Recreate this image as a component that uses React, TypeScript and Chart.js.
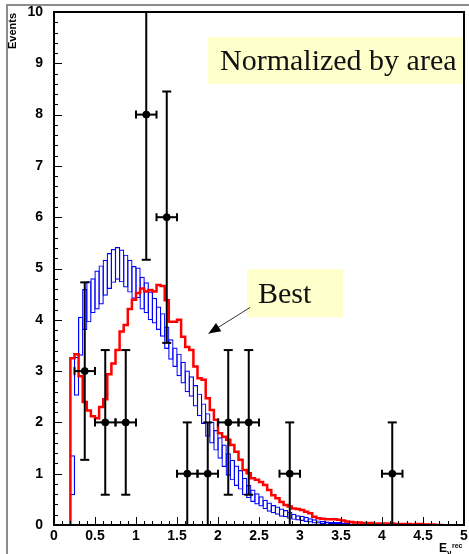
import React, { useEffect, useRef } from 'react';
import { Chart, registerables } from 'chart.js';

Chart.register(...registerables);

// Histogram binning (bin edges start at BIN_START, width BIN_WIDTH)
const BIN_START = 0.2;
const BIN_WIDTH = 0.05;

// Red histogram ("Best") bin contents
const redValues = [
  0.84, 3.25, 3.33, 2.9, 2.4, 2.23, 2.12, 2.08, 2.3, 2.45,
  2.94, 3.15, 3.41, 3.77, 3.9, 4.21, 4.39, 4.52, 4.61, 4.55,
  4.58, 4.55, 4.68, 4.66, 4.38, 3.96, 3.96, 4.0, 3.67, 3.47,
  3.41, 3.09, 2.86, 2.83, 2.47, 2.24, 2.05, 1.79, 1.72, 1.66,
  1.56, 1.43, 1.27, 1.07, 1.01, 0.91, 0.88, 0.84, 0.78, 0.68,
  0.58, 0.52, 0.45, 0.39, 0.36, 0.32, 0.31, 0.29, 0.26, 0.23,
  0.16, 0.13, 0.12, 0.11, 0.11, 0.11, 0.1, 0.09, 0.07, 0.06,
  0.05, 0.05, 0.04, 0.04, 0.04, 0.03, 0.03, 0.03, 0.03, 0.03,
  0.02, 0.02, 0.02, 0.02, 0.01, 0.02, 0.02, 0.01, 0.01, 0.01,
  0.0,
];

// Blue histogram (with error boxes) bin contents and half-errors
const blueValues = [
  0.97, 2.9, 3.68, 4.2, 4.35, 4.47, 4.58, 4.68, 4.82, 4.95,
  5.05, 5.1, 5.05, 4.95, 4.85, 4.73, 4.72, 4.52, 4.43, 4.27,
  4.18, 4.03, 3.9, 3.65, 3.42, 3.27, 3.12, 2.97, 2.8, 2.7,
  2.52, 2.34, 2.17, 1.95, 1.8, 1.65, 1.5, 1.35, 1.18, 1.07,
  0.96, 0.88, 0.75, 0.65, 0.57, 0.51, 0.46, 0.4, 0.35, 0.31,
  0.28, 0.24, 0.22, 0.19, 0.16, 0.14, 0.13, 0.11, 0.09, 0.07,
  0.06, 0.05, 0.05, 0.04, 0.04, 0.04, 0.03, 0.03, 0.02, 0.02,
  0.02, 0.02, 0.01, 0.01, 0.01, 0.01, 0.01, 0.01, 0.01, 0.01,
  0.01,
];
const blueErrors = [
  0.39, 0.38, 0.38, 0.4, 0.4, 0.34, 0.38, 0.38, 0.35, 0.35,
  0.33, 0.32, 0.32, 0.32, 0.32, 0.32, 0.3, 0.32, 0.3, 0.28,
  0.25, 0.23, 0.23, 0.22, 0.2, 0.19, 0.22, 0.21, 0.21, 0.2,
  0.21, 0.22, 0.2, 0.23, 0.21, 0.2, 0.21, 0.22, 0.22, 0.2,
  0.2, 0.19, 0.17, 0.13, 0.12, 0.11, 0.1, 0.09, 0.09, 0.08,
  0.08, 0.08, 0.07, 0.07, 0.06, 0.05, 0.05, 0.05, 0.04, 0.04,
  0.03, 0.03, 0.02, 0.02, 0.02, 0.02, 0.02, 0.02, 0.01, 0.01,
  0.01, 0.01, 0.01, 0.01, 0.01, 0.01, 0.01, 0.01, 0.01, 0.01,
  0.01,
];

// Data points with errors
const dataX = [0.375, 0.625, 0.875, 1.125, 1.375, 1.625, 1.875, 2.125, 2.375, 2.875, 4.125];
const dataY = [3, 2, 2, 8, 6, 1, 1, 2, 2, 1, 1];
const dataXErr = [0.125, 0.125, 0.125, 0.125, 0.125, 0.125, 0.125, 0.125, 0.125, 0.125, 0.125];
const dataYErr = [1.73, 1.41, 1.41, 2.83, 2.45, 1, 1, 1.41, 1.41, 1, 1];

// Axis settings
const X_MIN = 0, X_MAX = 5, X_STEP = 0.5, X_MINOR = 0.1;
const Y_MIN = 0, Y_MAX = 10, Y_STEP = 1, Y_MINOR = 0.2;

const TICK_FONT = { family: '"Liberation Sans", Arial, sans-serif', size: 14, weight: 'bold' as const };
const BLUE_BORDER = 1.2;

const decorPlugin = {
  id: 'decor',
  beforeDraw(chart: any) {
    const ctx = chart.ctx;
    ctx.save();
    ctx.strokeStyle = '#8c8c8c';
    ctx.lineWidth = 2;
    ctx.beginPath();
    ctx.moveTo(7, 554);
    ctx.lineTo(7, 5);
    ctx.lineTo(469, 5);
    ctx.stroke();
    ctx.restore();
  },
  afterDatasetsDraw(chart: any) {
    const ctx = chart.ctx;
    const a = chart.chartArea;
    const xs = chart.scales.x;
    const ys = chart.scales.y;

    // Error bars
    ctx.save();
    ctx.beginPath();
    ctx.rect(a.left, a.top, a.right - a.left, a.bottom - a.top);
    ctx.clip();
    ctx.strokeStyle = '#000';
    ctx.lineWidth = 2;
    const line = (x1: number, y1: number, x2: number, y2: number) => {
      ctx.beginPath();
      ctx.moveTo(x1, y1);
      ctx.lineTo(x2, y2);
      ctx.stroke();
    };
    for (let i = 0; i < dataX.length; i++) {
      const px = xs.getPixelForValue(dataX[i]);
      const py = ys.getPixelForValue(dataY[i]);
      const top = ys.getPixelForValue(dataY[i] + dataYErr[i]);
      const bot = ys.getPixelForValue(Math.max(0, dataY[i] - dataYErr[i]));
      const xl = xs.getPixelForValue(dataX[i] - dataXErr[i]);
      const xr = xs.getPixelForValue(dataX[i] + dataXErr[i]);
      line(px, top, px, bot);
      line(px - 4.5, top, px + 4.5, top);
      line(px - 4.5, bot, px + 4.5, bot);
      line(xl, py, xr, py);
      line(xl, py - 4, xl, py + 4);
      line(xr, py - 4, xr, py + 4);
    }
    ctx.restore();

    // Annotation: Normalized by area
    ctx.save();
    ctx.fillStyle = '#ffffcc';
    ctx.fillRect(208, 37, 258, 47);
    ctx.fillStyle = '#111';
    ctx.font = '30px "Liberation Serif", "Times New Roman", serif';
    ctx.textBaseline = 'alphabetic';
    ctx.textAlign = 'left';
    ctx.fillText('Normalized by area', 220, 70);

    // Annotation: Best
    ctx.fillStyle = '#ffffcc';
    ctx.fillRect(247, 269, 96, 48);
    ctx.fillStyle = '#111';
    ctx.fillText('Best', 258, 303);

    // Arrow
    ctx.strokeStyle = '#333';
    ctx.lineWidth = 1;
    const tipX = 208.5, tipY = 333.5, fromX = 250, fromY = 307.5;
    ctx.beginPath();
    ctx.moveTo(fromX, fromY);
    ctx.lineTo(tipX, tipY);
    ctx.stroke();
    const ang = Math.atan2(tipY - fromY, tipX - fromX);
    const len = 12, hw = 5;
    const bx = tipX - len * Math.cos(ang), by = tipY - len * Math.sin(ang);
    ctx.fillStyle = '#000';
    ctx.beginPath();
    ctx.moveTo(tipX, tipY);
    ctx.lineTo(bx + hw * Math.sin(ang), by - hw * Math.cos(ang));
    ctx.lineTo(bx - hw * Math.sin(ang), by + hw * Math.cos(ang));
    ctx.closePath();
    ctx.fill();
    ctx.restore();

    // Frame
    ctx.save();
    ctx.strokeStyle = '#000';
    ctx.lineWidth = 2;
    ctx.strokeRect(a.left, a.top, a.right - a.left, a.bottom - a.top);

    // Ticks (inside)
    ctx.lineWidth = 1;
    const nY = Math.round((Y_MAX - Y_MIN) / Y_MINOR);
    for (let k = 0; k <= nY; k++) {
      const v = Y_MIN + k * Y_MINOR;
      const py = Math.round(ys.getPixelForValue(v)) + 0.5;
      const l = k % Math.round(Y_STEP / Y_MINOR) === 0 ? 8 : 4;
      ctx.beginPath();
      ctx.moveTo(a.left, py);
      ctx.lineTo(a.left + l, py);
      ctx.stroke();
    }
    const nX = Math.round((X_MAX - X_MIN) / X_MINOR);
    for (let k = 0; k <= nX; k++) {
      const v = X_MIN + k * X_MINOR;
      const px = Math.round(xs.getPixelForValue(v)) + 0.5;
      const l = k % Math.round(X_STEP / X_MINOR) === 0 ? 8 : 4;
      ctx.beginPath();
      ctx.moveTo(px, a.bottom);
      ctx.lineTo(px, a.bottom - l);
      ctx.stroke();
    }

    // Axis titles
    ctx.fillStyle = '#000';
    ctx.font = 'bold 11px "Liberation Sans", Arial, sans-serif';
    ctx.save();
    ctx.translate(12.5, 13);
    ctx.rotate(-Math.PI / 2);
    ctx.textAlign = 'right';
    ctx.textBaseline = 'middle';
    ctx.fillText('Events', 0, 0);
    ctx.restore();

    ctx.textAlign = 'left';
    ctx.textBaseline = 'alphabetic';
    ctx.font = 'bold 12px "Liberation Sans", Arial, sans-serif';
    ctx.fillText('E', 439, 552);
    ctx.font = 'bold 8px "Liberation Sans", Arial, sans-serif';
    ctx.fillText('\u03bd', 447, 555);
    ctx.font = 'bold 7px "Liberation Sans", Arial, sans-serif';
    ctx.fillText('rec', 452, 548);
    ctx.restore();
  },
};

export default function App() {
  const ref = useRef<HTMLCanvasElement | null>(null);

  useEffect(() => {
    if (!ref.current) return;

    const redPoints: { x: number; y: number }[] = [{ x: BIN_START, y: 0 }];
    redValues.forEach((v, i) => redPoints.push({ x: BIN_START + i * BIN_WIDTH, y: v }));
    redPoints.push({ x: BIN_START + redValues.length * BIN_WIDTH, y: 0 });

    const blueBars = blueValues.map((v, i) => ({
      x: BIN_START + (i + 0.5) * BIN_WIDTH,
      y: [v - blueErrors[i], v + blueErrors[i]],
    }));

    const points = dataX.map((x, i) => ({ x, y: dataY[i] }));

    // bar width = one bin + one border width so the (inner) borders sit centred on bin edges
    const binPx = (411 * BIN_WIDTH) / (X_MAX - X_MIN);
    const barPct = (binPx + BLUE_BORDER) / binPx;

    const chart = new Chart(ref.current, {
      type: 'bar',
      data: {
        datasets: [
          {
            type: 'scatter',
            data: points,
            pointRadius: 3.5,
            pointBackgroundColor: '#000',
            pointBorderColor: '#000',
            showLine: false,
          } as any,
          {
            type: 'line',
            data: redPoints,
            stepped: 'after',
            borderColor: '#ff0000',
            borderWidth: 2.5,
            pointRadius: 0,
            fill: false,
          } as any,
          {
            type: 'bar',
            data: blueBars,
            backgroundColor: 'rgba(0,0,0,0)',
            borderColor: '#0000ff',
            borderWidth: BLUE_BORDER,
            borderSkipped: false,
            barPercentage: barPct,
            categoryPercentage: 1,
            grouped: false,
            inflateAmount: 0,
          } as any,
        ],
      },
      options: {
        responsive: false,
        animation: false,
        layout: { padding: { top: 12, right: 4, left: 0, bottom: 0 } },
        plugins: { legend: { display: false }, tooltip: { enabled: false } },
        scales: {
          x: {
            type: 'linear',
            min: X_MIN,
            max: X_MAX,
            offset: false,
            grid: { display: false, drawTicks: false, offset: false },
            border: { display: false },
            ticks: {
              stepSize: X_STEP,
              padding: 3,
              color: '#000',
              font: TICK_FONT,
              maxRotation: 0,
              autoSkip: false,
              callback: (v: any) => String(Number(v)),
            },
            afterFit: (s: any) => {
              s.height = 29;
              s.paddingLeft = 0;
              s.paddingRight = 0;
            },
          },
          y: {
            type: 'linear',
            min: Y_MIN,
            max: Y_MAX,
            grid: { display: false, drawTicks: false },
            border: { display: false },
            ticks: {
              stepSize: Y_STEP,
              padding: 11,
              color: '#000',
              font: TICK_FONT,
              callback: (v: any) => String(Number(v)),
            },
            afterFit: (s: any) => {
              s.width = 54;
              s.paddingTop = 0;
              s.paddingBottom = 0;
            },
          },
        },
      } as any,
      plugins: [decorPlugin],
    });

    return () => chart.destroy();
  }, []);

  return (
    <div style={{ position: 'absolute', left: 0, top: 0, width: 469, height: 554, background: '#fff' }}>
      <canvas ref={ref} width={469} height={554} style={{ display: 'block' }} />
    </div>
  );
}
